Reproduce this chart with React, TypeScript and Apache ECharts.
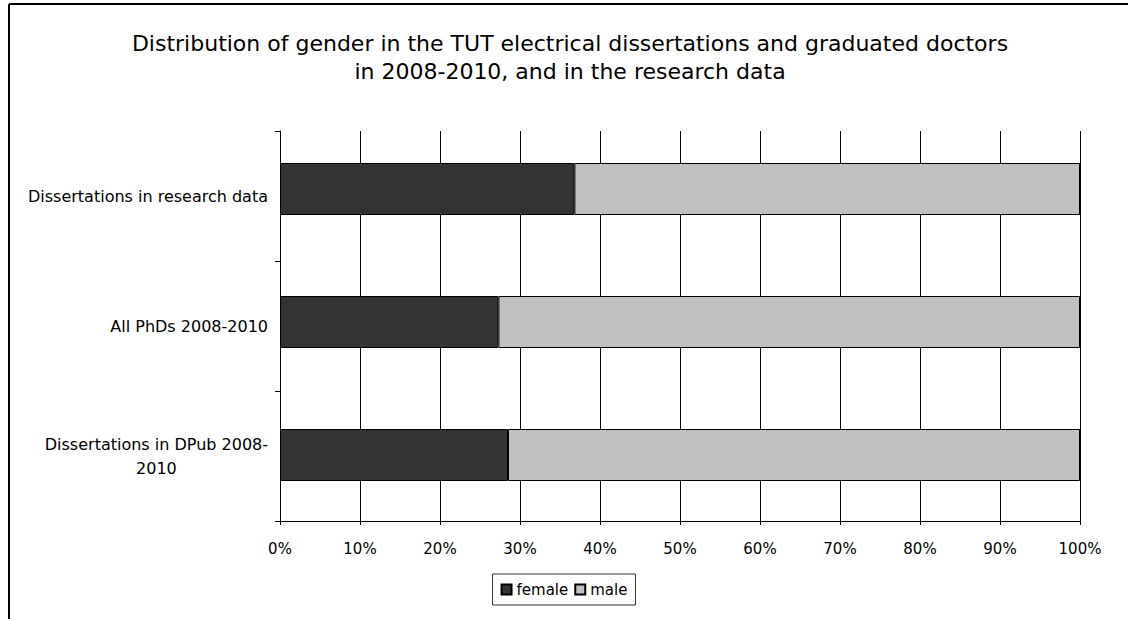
import React, { useEffect, useRef } from "react";
import * as echarts from "echarts";

const titleText = "Distribution of gender in the TUT electrical dissertations and graduated doctors\nin 2008-2010, and in the research data";
const categories = ["Dissertations in DPub 2008-2010", "All PhDs 2008-2010", "Dissertations in research data"];
const female = [28.5, 27.3, 36.8];
const male = [71.5, 72.7, 63.2];
const seriesNames = ["female", "male"];

const FONT = "'DejaVu Sans', Verdana, sans-serif";

export default function App() {
  const ref = useRef<HTMLDivElement>(null);
  useEffect(() => {
    const chart = echarts.init(ref.current!, null, { renderer: "svg" });
    chart.setOption({
      animation: false,
      backgroundColor: "#ffffff",
      textStyle: { fontFamily: FONT, color: "#000" },
      title: {
        text: titleText,
        left: 570,
        top: 29,
        padding: 0,
        textAlign: "center",
        textStyle: { fontFamily: FONT, fontSize: 22, fontWeight: "normal", color: "#000", lineHeight: 28 },
      },
      legend: {
        data: seriesNames,
        left: "center",
        top: 574,
        padding: [8, 8, 8, 8],
        borderColor: "#333",
        borderWidth: 1,
        itemWidth: 10,
        itemHeight: 10,
        itemGap: 6,
        icon: "rect",
        textStyle: { fontFamily: FONT, fontSize: 15, color: "#000" },
      },
      grid: [
        { left: 280, right: 48, top: 131, bottom: 98, containLabel: false },
        { left: 280, right: 48, top: 122.5, bottom: 97.5, containLabel: false },
      ],
      xAxis: [
        {
          type: "value",
          gridIndex: 0,
          min: 0,
          max: 100,
          interval: 10,
          axisLine: { show: true, lineStyle: { color: "#000", width: 1 } },
          axisTick: { show: true, length: 4, lineStyle: { color: "#000" } },
          axisLabel: { formatter: "{value}%", fontFamily: FONT, fontSize: 15, color: "#000", margin: 20 },
          splitLine: { show: true, lineStyle: { color: "#000", width: 1 } },
        },
        {
          type: "value",
          gridIndex: 1,
          min: 0,
          max: 100,
          interval: 10,
          show: false,
        },
      ],
      yAxis: [
        {
          type: "category",
          gridIndex: 0,
          data: categories,
          axisLine: { show: true, lineStyle: { color: "#000", width: 1 } },
          axisTick: { show: true, length: 5, lineStyle: { color: "#000" } },
          axisLabel: {
            fontFamily: FONT,
            fontSize: 16,
            color: "#000",
            margin: 12,
            lineHeight: 24,
            formatter: (v: string) => {
              if (v.length > 30) {
                const i = v.lastIndexOf("-") + 1;
                return "{c|" + v.slice(0, i) + "}\n{c|" + v.slice(i) + "}";
              }
              return v;
            },
            rich: { c: { align: "center", fontFamily: FONT, fontSize: 16, color: "#000", lineHeight: 24 } },
          },
          splitLine: { show: false },
        },
        {
          type: "category",
          gridIndex: 1,
          data: categories,
          show: false,
        },
      ],
      series: [
        {
          name: seriesNames[0],
          type: "bar",
          stack: "total",
          xAxisIndex: 1,
          yAxisIndex: 1,
          data: female,
          barWidth: 52,
          itemStyle: { color: "#333333", borderColor: "#000", borderWidth: 1 },
        },
        {
          name: seriesNames[1],
          type: "bar",
          stack: "total",
          xAxisIndex: 1,
          yAxisIndex: 1,
          data: male,
          barWidth: 52,
          itemStyle: { color: "#c0c0c0", borderColor: "#000", borderWidth: 1 },
        },
      ],
      graphic: [
        { type: "line", shape: { x1: 9, y1: 4, x2: 9, y2: 619 }, style: { stroke: "#000", lineWidth: 2 } },
        { type: "line", shape: { x1: 9, y1: 4, x2: 1128, y2: 4 }, style: { stroke: "#000", lineWidth: 2 } },
      ],
    });
    return () => chart.dispose();
  }, []);
  return <div ref={ref} style={{ position: "fixed", left: 0, top: 0, width: 1128, height: 619 }} />;
}
